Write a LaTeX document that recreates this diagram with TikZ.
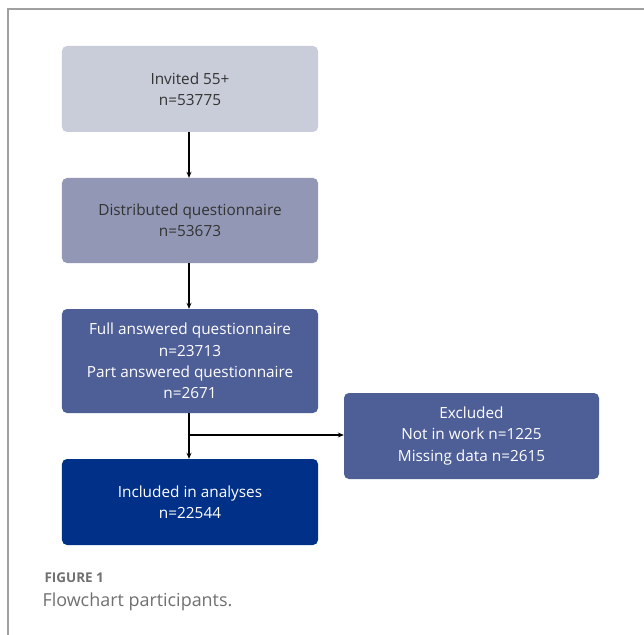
\documentclass[tikz,border=0pt]{standalone}
\usepackage{fontspec}
\setmainfont{Open Sans}
\usetikzlibrary{arrows.meta}
\definecolor{c1}{HTML}{C9CDD9}
\definecolor{c2}{HTML}{9197B5}
\definecolor{c3}{HTML}{4E5E97}
\definecolor{c4}{HTML}{003087}
\definecolor{frame}{HTML}{A0A0A0}
\definecolor{capgray}{HTML}{707070}
\begin{document}
\begin{tikzpicture}[x=1bp,y=-1bp,
  box/.style={rounded corners=5bp, minimum width=256bp, inner sep=0pt, align=center, font=\fontsize{15.4}{21.5}\selectfont},
  conn/.style={line width=1.2bp, -{Stealth[length=6bp,width=5bp]}}]
\useasboundingbox (0,0) rectangle (644,635);
\fill[white] (0,0) rectangle (644,635);
\draw[frame, line width=1.5bp] (644,9) -- (8,9) -- (8,635);
\node[box, fill=c1, text=black!80, minimum height=86bp] (inv) at (190,89) {Invited 55+\\n=53775};
\node[box, fill=c2, text=black!80, minimum height=85bp] (dist) at (190,220.5) {Distributed questionnaire\\n=53673};
\node[box, fill=c3, text=white, minimum height=104bp] (full) at (190,361) {Full answered questionnaire\\n=23713\\Part answered questionnaire\\n=2671};
\node[box, fill=c4, text=white, minimum height=86bp] (incl) at (190,502) {Included in analyses\\n=22544};
\node[box, fill=c3, text=white, minimum width=255bp, minimum height=86bp] (excl) at (471.5,436) {Excluded\\Not in work n=1225\\Missing data n=2615};
\draw[conn] (inv.south -| 189,0) -- (dist.north -| 189,0);
\draw[conn] (dist.south -| 189,0) -- (full.north -| 189,0);
\draw[conn] (full.south -| 189,0) -- (incl.north -| 189,0);
\coordinate (split) at (189,435);
\draw[conn] (split) -- (split -| excl.west);
\node[anchor=west, text=capgray, font=\bfseries\fontsize{13.5}{14}\selectfont] (fig) at (41,578) {FIGURE 1};
\node[anchor=west, text=capgray, font=\fontsize{18}{20}\selectfont] (cap) at (39,602) {Flowchart participants.};
\end{tikzpicture}
\end{document}
